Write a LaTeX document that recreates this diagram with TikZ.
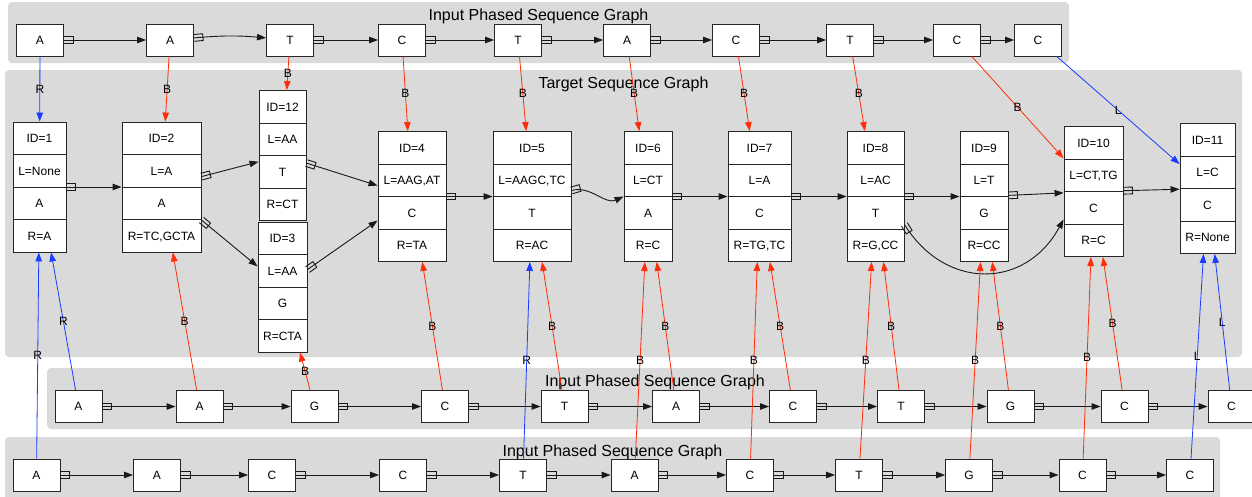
\documentclass[tikz,border=0pt]{standalone}
\usepackage{fontspec}
\setmainfont{Liberation Sans}
\usetikzlibrary{arrows.meta,shapes.multipart,decorations.markings}
\definecolor{clusterGray}{RGB}{218,218,218}
\definecolor{linkRed}{RGB}{255,45,10}
\definecolor{linkBlue}{RGB}{25,60,255}
\newcommand{\rowstrut}{\rule[-11.5pt]{0pt}{31.6pt}}
\tikzstyle{cluster}=[fill=clusterGray, rounded corners=4pt]
\tikzstyle{clusterLabel}=[font=\fontsize{16}{18}\selectfont, inner sep=0pt]
\tikzstyle{seqV}=[draw=black!85, fill=white, line width=0.9pt, minimum width=47pt, minimum height=32pt, inner sep=0pt, font=\fontsize{12}{14}\selectfont]
\tikzstyle{recV}=[rectangle split, rectangle split parts=4, draw=black!85, fill=white, line width=0.9pt, inner ysep=0pt, inner xsep=2pt, font=\fontsize{12}{14}\selectfont]
\tikzstyle{tailBox}=[postaction={decorate}, decoration={markings, mark=at position 0pt with {\draw[-, draw=black!90, line width=0.9pt] (0pt,3.4pt) -- (9pt,3.4pt) -- (9pt,-3.4pt) -- (0pt,-3.4pt);}}]
\tikzstyle{edge}=[draw=black!90, line width=0.9pt, -{Triangle[length=9pt,width=6.5pt]}, tailBox]
\tikzstyle{linkR}=[draw=linkBlue, line width=0.8pt, -{Triangle[length=9pt,width=6.5pt]}]
\tikzstyle{linkB}=[draw=linkRed, line width=0.8pt, -{Triangle[length=9pt,width=6.5pt]}]
\tikzstyle{lab}=[midway, inner sep=0pt, text=black, font=\fontsize{12}{14}\selectfont]
\begin{document}
\begin{tikzpicture}[x=1pt, y=-1pt]
      \useasboundingbox (0,0) rectangle (1252,496);
      \clip (0,0) rectangle (1252,496);
      % clusters
      \fill[cluster] (8,2) rectangle (1069,63);
      \fill[cluster] (5,70) rectangle (1242,357);
      \fill[cluster] (47,368) rectangle (1263,429);
      \fill[cluster] (5,437) rectangle (1220,505);
      \node(topLabel) [clusterLabel] at (538.5,16) {Input Phased Sequence Graph};
      \node(targetLabel) [clusterLabel] at (623.5,84) {Target Sequence Graph};
      \node(midLabel) [clusterLabel] at (655,382) {Input Phased Sequence Graph};
      \node(botLabel) [clusterLabel] at (612.5,452) {Input Phased Sequence Graph};
      % input phased sequence graph, top
      \node(i1) [seqV] at (40,40) {A};
      \node(i2) [seqV] at (170,40) {A};
      \node(i3) [seqV] at (290,40) {T};
      \node(i4) [seqV] at (402,40) {C};
      \node(i5) [seqV] at (518,40) {T};
      \node(i6) [seqV] at (627,40) {A};
      \node(i7) [seqV] at (736,40) {C};
      \node(i8) [seqV] at (850,40) {T};
      \node(i9) [seqV] at (957,40) {C};
      \node(i10) [seqV] at (1038,40) {C};
      % target sequence graph
      \node(t1) [recV, minimum width=53pt] at (39.5,187) {\rowstrut ID=1\nodepart{two}\rowstrut L=None\nodepart{three}\rowstrut A\nodepart{four}\rowstrut R=A};
      \node(t2) [recV, minimum width=79pt] at (161.5,187) {\rowstrut ID=2\nodepart{two}\rowstrut L=A\nodepart{three}\rowstrut A\nodepart{four}\rowstrut R=TC,GCTA};
      \node(t12) [recV, minimum width=47pt] at (282.5,155.5) {\rowstrut ID=12\nodepart{two}\rowstrut L=AA\nodepart{three}\rowstrut T\nodepart{four}\rowstrut R=CT};
      \node(t3) [recV, minimum width=49pt] at (282.5,287) {\rowstrut ID=3\nodepart{two}\rowstrut L=AA\nodepart{three}\rowstrut G\nodepart{four}\rowstrut R=CTA};
      \node(t4) [recV, minimum width=68pt] at (412,196.5) {\rowstrut ID=4\nodepart{two}\rowstrut L=AAG,AT\nodepart{three}\rowstrut C\nodepart{four}\rowstrut R=TA};
      \node(t5) [recV, minimum width=78pt] at (532,196.5) {\rowstrut ID=5\nodepart{two}\rowstrut L=AAGC,TC\nodepart{three}\rowstrut T\nodepart{four}\rowstrut R=AC};
      \node(t6) [recV, minimum width=48pt] at (648,196.5) {\rowstrut ID=6\nodepart{two}\rowstrut L=CT\nodepart{three}\rowstrut A\nodepart{four}\rowstrut R=C};
      \node(t7) [recV, minimum width=63pt] at (759.5,196.5) {\rowstrut ID=7\nodepart{two}\rowstrut L=A\nodepart{three}\rowstrut C\nodepart{four}\rowstrut R=TG,TC};
      \node(t8) [recV, minimum width=57pt] at (875.5,196.5) {\rowstrut ID=8\nodepart{two}\rowstrut L=AC\nodepart{three}\rowstrut T\nodepart{four}\rowstrut R=G,CC};
      \node(t9) [recV, minimum width=48pt] at (984,196.5) {\rowstrut ID=9\nodepart{two}\rowstrut L=T\nodepart{three}\rowstrut G\nodepart{four}\rowstrut R=CC};
      \node(t10) [recV, minimum width=59pt] at (1093.5,191.5) {\rowstrut ID=10\nodepart{two}\rowstrut L=CT,TG\nodepart{three}\rowstrut C\nodepart{four}\rowstrut R=C};
      \node(t11) [recV, minimum width=55pt] at (1207.5,188.5) {\rowstrut ID=11\nodepart{two}\rowstrut L=C\nodepart{three}\rowstrut C\nodepart{four}\rowstrut R=None};
      % input phased sequence graph, middle
      \node(m1) [seqV] at (78.5,406.5) {A};
      \node(m2) [seqV] at (199.5,406.5) {A};
      \node(m3) [seqV] at (314.5,406.5) {G};
      \node(m4) [seqV] at (445,406.5) {C};
      \node(m5) [seqV] at (564.5,406.5) {T};
      \node(m6) [seqV] at (676,406.5) {A};
      \node(m7) [seqV] at (793,406.5) {C};
      \node(m8) [seqV] at (901,406.5) {T};
      \node(m9) [seqV] at (1010.5,406.5) {G};
      \node(m10) [seqV] at (1124.5,406.5) {C};
      \node(m11) [seqV] at (1231.5,406.5) {C};
      % input phased sequence graph, bottom
      \node(b1) [seqV] at (36.5,475) {A};
      \node(b2) [seqV] at (157,475) {A};
      \node(b3) [seqV] at (272,475) {C};
      \node(b4) [seqV] at (403,475) {C};
      \node(b5) [seqV] at (523,475) {T};
      \node(b6) [seqV] at (634.5,475) {A};
      \node(b7) [seqV] at (750,475) {C};
      \node(b8) [seqV] at (859,475) {T};
      \node(b9) [seqV] at (969,475) {G};
      \node(b10) [seqV] at (1082.5,475) {C};
      \node(b11) [seqV] at (1190,475) {C};
      % sequence edges
      \draw[edge] (i1) -- (i2);
      \draw[edge] (i2) to[bend left=5] (i3);
      \draw[edge] (i3) -- (i4);
      \draw[edge] (i4) -- (i5);
      \draw[edge] (i5) -- (i6);
      \draw[edge] (i6) -- (i7);
      \draw[edge] (i7) -- (i8);
      \draw[edge] (i8) -- (i9);
      \draw[edge] (i9) -- (i10);
      \draw[edge] (t1) -- (t2);
      \draw[edge] (t2) -- (t12);
      \draw[edge] (t2) -- (t3);
      \draw[edge] (t12) -- (t4);
      \draw[edge] (t3) -- (t4);
      \draw[edge] (t4) -- (t5);
      \draw[edge] ([yshift=6pt]t5.east) .. controls (590,185) and (605,205) .. (t6.west);
      \draw[edge] (t6) -- (t7);
      \draw[edge] (t7) -- (t8);
      \draw[edge] (t8) -- (t9);
      \draw[edge] ([yshift=-28pt]t8.east) .. controls (945,290) and (1025,290) .. ([yshift=-28pt]t10.west);
      \draw[edge] (t9) -- (t10);
      \draw[edge] (t10) -- (t11);
      \draw[edge] (m1) -- (m2);
      \draw[edge] (m2) -- (m3);
      \draw[edge] (m3) -- (m4);
      \draw[edge] (m4) -- (m5);
      \draw[edge] (m5) -- (m6);
      \draw[edge] (m6) -- (m7);
      \draw[edge] (m7) -- (m8);
      \draw[edge] (m8) -- (m9);
      \draw[edge] (m9) -- (m10);
      \draw[edge] (m10) -- (m11);
      \draw[edge] (b1) -- (b2);
      \draw[edge] (b2) -- (b3);
      \draw[edge] (b3) -- (b4);
      \draw[edge] (b4) -- (b5);
      \draw[edge] (b5) -- (b6);
      \draw[edge] (b6) -- (b7);
      \draw[edge] (b7) -- (b8);
      \draw[edge] (b8) -- (b9);
      \draw[edge] (b9) -- (b10);
      \draw[edge] (b10) -- (b11);
      % links into the target graph
      \draw[linkR] (i1) -- node[lab]{R} (t1);
      \draw[linkB] (i2) -- node[lab]{B} (t2);
      \draw[linkB] (i3) -- node[lab]{B} (t12);
      \draw[linkB] (i4) -- node[lab]{B} (t4);
      \draw[linkB] (i5) -- node[lab]{B} (t5);
      \draw[linkB] (i6) -- node[lab]{B} (t6);
      \draw[linkB] (i7) -- node[lab]{B} (t7);
      \draw[linkB] (i8) -- node[lab]{B} (t8);
      \draw[linkB] (i9) -- node[lab]{B} (t10);
      \draw[linkR] (i10) -- node[lab]{L} (t11);
      \draw[linkR] (m1) -- node[lab]{R} (t1);
      \draw[linkB] (m2) -- node[lab]{B} (t2);
      \draw[linkB] (m3) -- node[lab]{B} (t3);
      \draw[linkB] (m4) -- node[lab]{B} (t4);
      \draw[linkB] (m5) -- node[lab]{B} (t5);
      \draw[linkB] (m6) -- node[lab]{B} (t6);
      \draw[linkB] (m7) -- node[lab]{B} (t7);
      \draw[linkB] (m8) -- node[lab]{B} (t8);
      \draw[linkB] (m9) -- node[lab]{B} (t9);
      \draw[linkB] (m10) -- node[lab]{B} (t10);
      \draw[linkR] (m11) -- node[lab]{L} (t11);
      \draw[linkR] (b1) -- node[lab]{R} (t1);
      \draw[linkR] (b5) -- node[lab]{R} (t5);
      \draw[linkB] (b6) -- node[lab]{B} (t6);
      \draw[linkB] (b7) -- node[lab]{B} (t7);
      \draw[linkB] (b8) -- node[lab]{B} (t8);
      \draw[linkB] (b9) -- node[lab]{B} (t9);
      \draw[linkB] (b10) -- node[lab]{B} (t10);
      \draw[linkR] (b11) -- node[lab]{L} (t11);
    \end{tikzpicture}
\end{document}
